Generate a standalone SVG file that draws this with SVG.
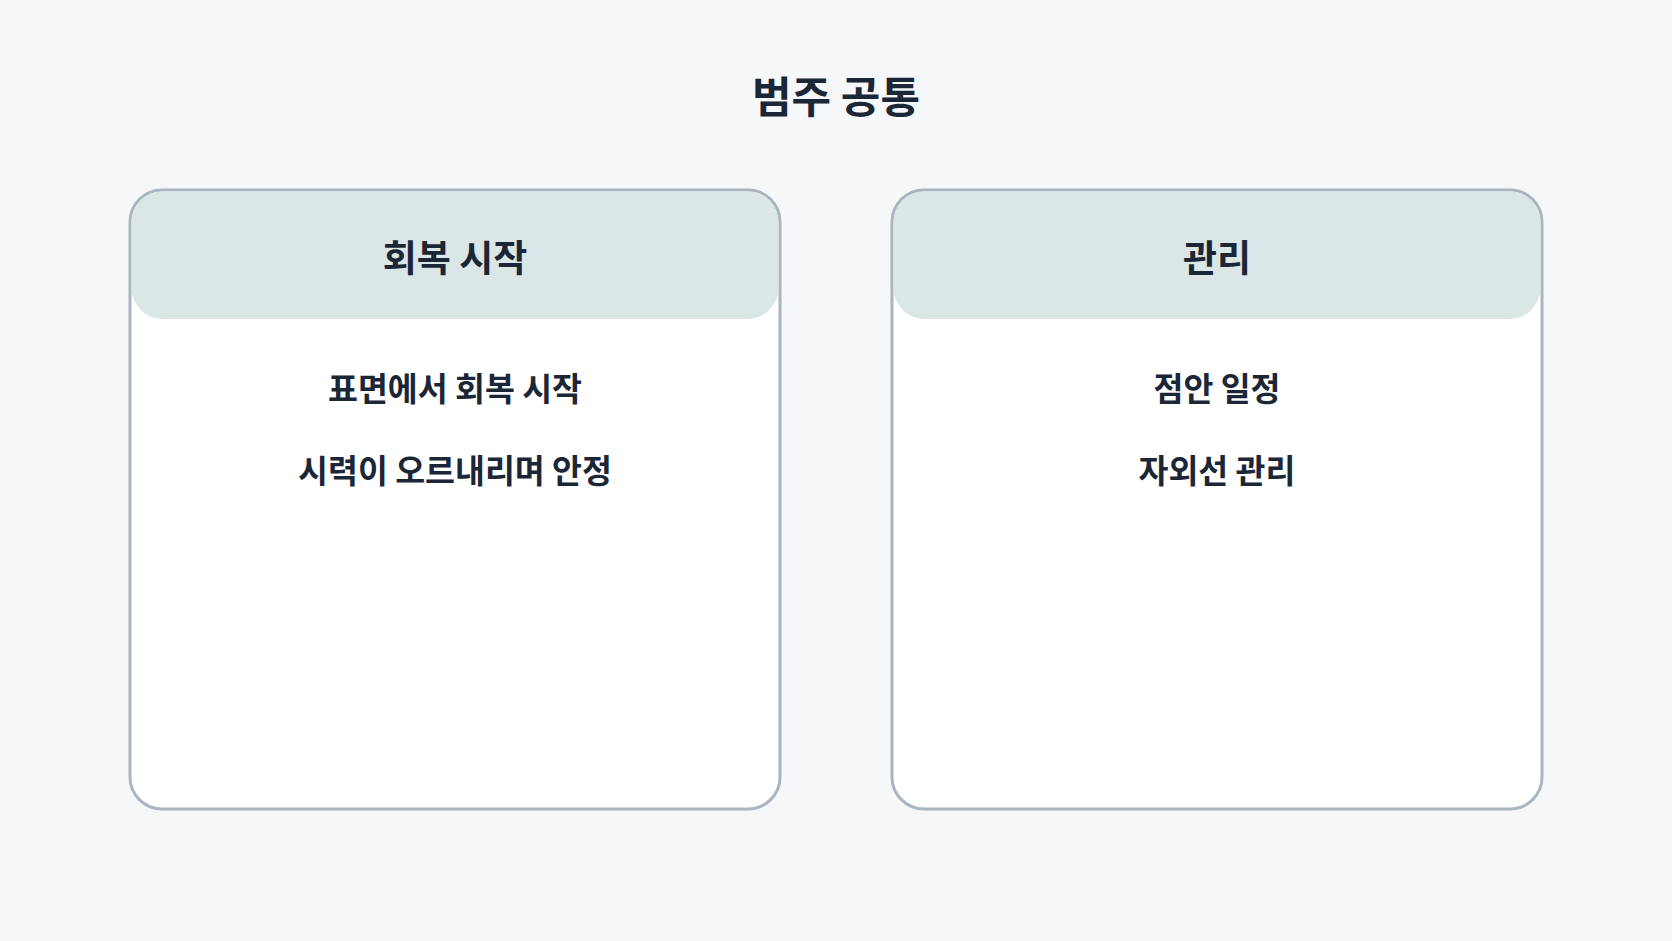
<svg xmlns="http://www.w3.org/2000/svg" width="1672" height="941" viewBox="0 0 1672 941">
<style>
.bg{fill:#f5f7f9}
.card{fill:#ffffff;stroke:#aab5bf;stroke-width:3}
.head{fill:#dbe7e7}
text{font-family:"Noto Sans CJK KR","Noto Sans CJK SC",sans-serif;font-weight:700;fill:#1b2636;text-anchor:middle;dominant-baseline:central}
.title{font-size:43px}
.htxt{font-size:37px}
.btxt{font-size:32.5px}
</style>
<rect class="bg" x="0" y="0" width="1672" height="941"/>
<text class="title" x="836" y="94">범주 공통</text>
<g id="node-recovery">
<rect class="card" x="130" y="190" width="650" height="619" rx="32"/>
<rect class="head" x="131.5" y="191.5" width="647" height="127.5" rx="31"/>
<text class="htxt" x="455" y="256">회복 시작</text>
<text class="btxt" x="455" y="386">표면에서 회복 시작</text>
<text class="btxt" x="455" y="468">시력이 오르내리며 안정</text>
</g>
<g id="node-care">
<rect class="card" x="892" y="190" width="650" height="619" rx="32"/>
<rect class="head" x="893.5" y="191.5" width="647" height="127.5" rx="31"/>
<text class="htxt" x="1217" y="256">관리</text>
<text class="btxt" x="1217" y="386">점안 일정</text>
<text class="btxt" x="1217" y="468">자외선 관리</text>
</g>
<g id="connectors"></g>
</svg>
